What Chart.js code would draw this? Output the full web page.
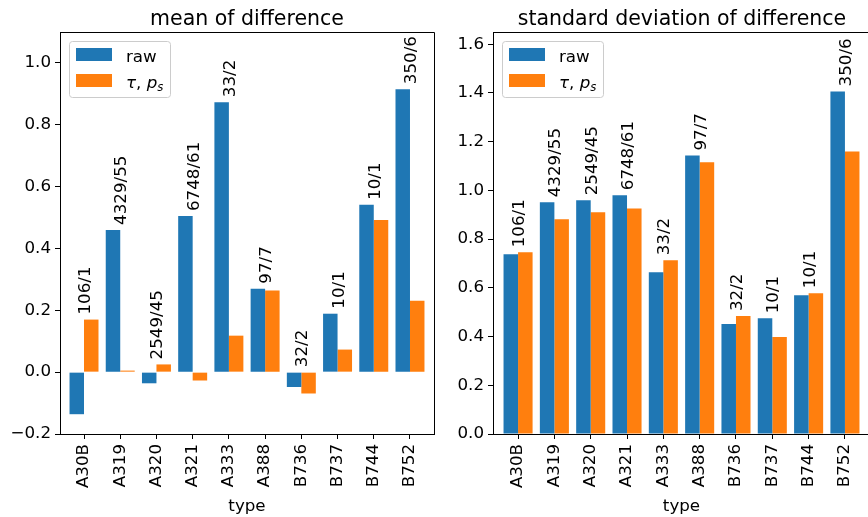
<!DOCTYPE html>
<html><head><meta charset="utf-8">
<script src="https://cdn.jsdelivr.net/npm/chart.js@4.4.1/dist/chart.umd.min.js"></script>
<style>
html,body{margin:0;padding:0;background:#fff;}
#wrap{position:relative;width:868px;height:517px;overflow:hidden;}
canvas{position:absolute;top:0;}
</style></head>
<body><div id="wrap">
<canvas id="c1" width="440" height="517" style="left:0px"></canvas>
<canvas id="c2" width="440" height="517" style="left:440px"></canvas>
</div>
<script>
const categories = ["A30B","A319","A320","A321","A333","A388","B736","B737","B744","B752"];
const countLabels = ["106/1","4329/55","2549/45","6748/61","33/2","97/7","32/2","10/1","10/1","350/6"];
const rawMean = [-0.136, 0.460, -0.036, 0.505, 0.873, 0.270, -0.048, 0.189, 0.541, 0.915];
const tauMean = [0.170, 0.005, 0.025, -0.027, 0.118, 0.264, -0.069, 0.073, 0.492, 0.231];
const rawStd  = [0.738, 0.951, 0.959, 0.980, 0.664, 1.143, 0.451, 0.475, 0.570, 1.406];
const tauStd  = [0.746, 0.881, 0.910, 0.926, 0.713, 1.115, 0.484, 0.398, 0.578, 1.160];
const meanTicks = [-0.2, 0.0, 0.2, 0.4, 0.6, 0.8, 1.0];
const stdTicks  = [0.0, 0.2, 0.4, 0.6, 0.8, 1.0, 1.2, 1.4, 1.6];
const seriesNames = ["raw", "tau"];

const BLUE = '#1f77b4', ORANGE = '#ff7f0e';
const FONT = 'DejaVu Sans';

function fmt(v){ const s = Math.abs(v).toFixed(1); return v < -1e-9 ? '\u2212' + s : s; }
function pts(arr){ return arr.map((v, i) => ({ x: i, y: v })); }

const decorPlugin = {
  id: 'decor',
  afterDraw(chart) {
    const o = chart.options.plugins.decor;
    const ctx = chart.ctx, a = chart.chartArea;
    const xs = chart.scales.x, ys = chart.scales.y;
    ctx.save();
    // spines top/right
    ctx.strokeStyle = '#000'; ctx.lineWidth = 1;
    ctx.beginPath();
    ctx.moveTo(Math.round(a.left)+0.5, Math.round(a.top)+0.5);
    ctx.lineTo(Math.round(a.right)+0.5, Math.round(a.top)+0.5);
    ctx.lineTo(Math.round(a.right)+0.5, Math.round(a.bottom)+0.5);
    ctx.stroke();
    // title
    ctx.fillStyle = '#000';
    ctx.font = '20.5px "' + FONT + '"';
    ctx.textAlign = 'center'; ctx.textBaseline = 'alphabetic';
    ctx.fillText(o.title, o.titleX, 25);
    // annotations
    ctx.font = '16.7px "' + FONT + '"';
    const d0 = chart.data.datasets[0].data, d1 = chart.data.datasets[1].data;
    for (let i = 0; i < categories.length; i++) {
      const m = Math.max(0, d0[i].y, d1[i].y);
      const x = xs.getPixelForValue(i);
      const y = ys.getPixelForValue(m) - 5;
      ctx.save();
      ctx.translate(x + 6, y);
      ctx.rotate(-Math.PI/2);
      ctx.textAlign = 'left'; ctx.textBaseline = 'alphabetic';
      ctx.fillText(countLabels[i], 0, 0);
      ctx.restore();
    }
    // legend
    const lx = a.left + 9.5, ly = a.top + 9.5, lw = 101, lh = 56;
    ctx.beginPath();
    ctx.roundRect(lx, ly, lw, lh, 3);
    ctx.fillStyle = 'rgba(255,255,255,0.8)'; ctx.fill();
    ctx.strokeStyle = '#cccccc'; ctx.lineWidth = 1; ctx.stroke();
    const px = a.left + 16;
    ctx.fillStyle = BLUE; ctx.fillRect(px, a.top + 16, 36, 13);
    ctx.fillStyle = ORANGE; ctx.fillRect(px, a.top + 42, 36, 13);
    ctx.fillStyle = '#000';
    ctx.textAlign = 'left';
    ctx.font = '16.7px "' + FONT + '"';
    const tx = a.left + 66;
    ctx.fillText('raw', tx, a.top + 29.5);
    let cx = tx, by = a.top + 55.5;
    ctx.font = 'italic 16.7px "' + FONT + '"';
    ctx.fillText('\u03c4', cx, by); cx += ctx.measureText('\u03c4').width;
    ctx.font = '16.7px "' + FONT + '"';
    ctx.fillText(', ', cx, by); cx += ctx.measureText(', ').width;
    ctx.font = 'italic 16.7px "' + FONT + '"';
    ctx.fillText('p', cx, by); cx += ctx.measureText('p').width;
    ctx.font = 'italic 11.7px "' + FONT + '"';
    ctx.fillText('s', cx, by + 3);
    ctx.restore();
  }
};

function makeChart(id, raw, tau, ticks, ymin, ymax, xpad, title, titleX, yw, padRight) {
  return new Chart(document.getElementById(id), {
    type: 'bar',
    data: {
      datasets: [
        { label: seriesNames[0], data: pts(raw), backgroundColor: BLUE, borderWidth: 0 },
        { label: seriesNames[1], data: pts(tau), backgroundColor: ORANGE, borderWidth: 0 }
      ]
    },
    options: {
      responsive: false, animation: false, devicePixelRatio: 1,
      layout: { padding: { top: 32, right: padRight, left: 0, bottom: 0 } },
      datasets: { bar: { categoryPercentage: 0.8, barPercentage: 1.0 } },
      plugins: { legend: { display: false }, tooltip: { enabled: false }, decor: { title: title, titleX: titleX } },
      scales: {
        x: {
          type: 'linear', offset: false, min: -xpad, max: categories.length - 1 + xpad,
          afterBuildTicks(s) { s.ticks = categories.map((c, i) => ({ value: i })); },
          grid: { display: true, offset: false, drawOnChartArea: false, drawTicks: true, tickLength: 5, color: '#000' },
          border: { display: true, color: '#000', width: 1 },
          ticks: { minRotation: 90, maxRotation: 90, autoSkip: false, padding: 5, color: '#000',
                   font: { family: FONT, size: 16.7 }, callback: (v) => categories[Math.round(v)] },
          title: { display: true, text: 'type', color: '#000', font: { family: FONT, size: 16.7 }, padding: { top: 0, bottom: 0 } },
          afterFit(s) { s.height = 83; }
        },
        y: {
          min: ymin, max: ymax,
          afterBuildTicks(s) { s.ticks = ticks.map(v => ({ value: v })); },
          grid: { display: true, offset: false, drawOnChartArea: false, drawTicks: true, tickLength: 5, color: '#000' },
          border: { display: true, color: '#000', width: 1 },
          ticks: { padding: 4, color: '#000', font: { family: FONT, size: 16.7 }, callback: (v) => fmt(v) },
          afterFit(s) { s.width = yw; }
        }
      }
    },
    plugins: [decorPlugin]
  });
}

makeChart('c1', rawMean, tauMean, meanTicks, -0.2, 1.1, 0.663, 'mean of difference', 247, 60, 6);
makeChart('c2', rawStd, tauStd, stdTicks, 0, 1.65, 0.69, 'standard deviation of difference', 242, 53, 10);
</script>
</body></html>
